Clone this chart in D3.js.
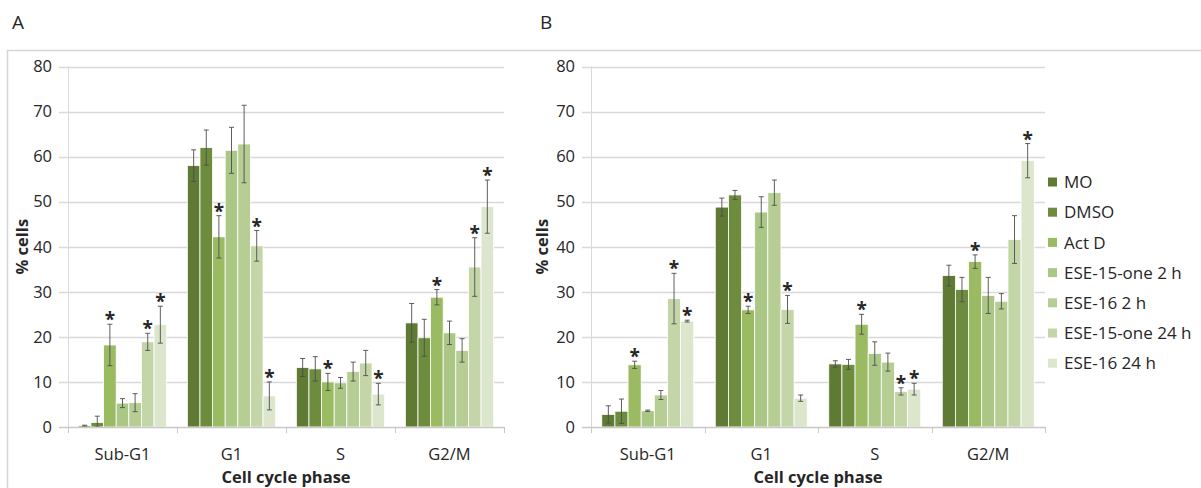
<!DOCTYPE html>
<html>
<head>
<meta charset="utf-8">
<script src="https://cdn.jsdelivr.net/npm/d3@7/dist/d3.min.js"></script>
<style>
  html, body { margin: 0; padding: 0; background: #fff; }
  svg { display: block; }
  text { font-family: "Open Sans", "DejaVu Sans", sans-serif; fill: #262626; }
</style>
</head>
<body>
<svg id="chart" width="1201" height="488"></svg>
<script>
// Cell cycle distribution (% cells) per phase, two experiments (A and B)
const categories = ["Sub-G1", "G1", "S", "G2/M"];
const seriesNames = ["MO", "DMSO", "Act D", "ESE-15-one 2 h", "ESE-16 2 h", "ESE-15-one 24 h", "ESE-16 24 h"];
const seriesColors = ["#5f7a32", "#6e8c3e", "#9bbb62", "#aac785", "#b6cd94", "#c4d6a8", "#dce6cd"];
const yTicks = [0, 10, 20, 30, 40, 50, 60, 70, 80];

// Panel A: mean values, rows = series, columns = phases
const valuesA = [
  [0.3, 58.0, 13.2, 23.1],
  [1.0, 62.0, 12.9, 19.8],
  [18.2, 42.2, 10.0, 28.8],
  [5.3, 61.4, 9.8, 20.9],
  [5.4, 62.8, 12.3, 17.0],
  [18.9, 40.2, 14.2, 35.5],
  [22.7, 6.9, 7.3, 48.9]
];
const errorsA = [
  [0.1, 3.5, 2.0, 4.3],
  [1.4, 3.9, 2.7, 4.1],
  [4.6, 4.7, 1.9, 1.7],
  [1.0, 5.1, 1.2, 2.6],
  [2.0, 8.6, 2.1, 2.6],
  [1.9, 3.4, 2.8, 6.5],
  [4.1, 3.1, 2.4, 5.9]
];
const signifA = [
  [0, 0, 0, 0],
  [0, 0, 0, 0],
  [1, 1, 1, 1],
  [0, 0, 0, 0],
  [0, 0, 0, 0],
  [1, 1, 0, 1],
  [1, 1, 1, 1]
];

// Panel B
const valuesB = [
  [2.8, 48.8, 14.0, 33.6],
  [3.5, 51.5, 13.9, 30.5],
  [13.8, 26.0, 22.8, 36.7],
  [3.6, 47.7, 16.3, 29.2],
  [7.1, 52.0, 14.4, 27.9],
  [28.5, 26.1, 7.9, 41.6],
  [23.5, 6.4, 8.4, 59.1]
];
const errorsB = [
  [1.9, 2.0, 0.7, 2.3],
  [2.7, 1.0, 1.1, 2.7],
  [0.8, 0.8, 2.2, 1.5],
  [0.15, 3.4, 2.6, 4.0],
  [1.0, 2.8, 2.0, 1.7],
  [5.6, 3.1, 0.8, 5.3],
  [0.2, 0.7, 1.3, 3.8]
];
const signifB = [
  [0, 0, 0, 0],
  [0, 0, 0, 0],
  [1, 1, 1, 1],
  [0, 0, 0, 0],
  [0, 0, 0, 0],
  [1, 1, 1, 0],
  [1, 0, 1, 1]
];

const svg = d3.select("#chart");

// outer frame
svg.append("path")
  .attr("d", "M7.5,488 V50.5 H1201")
  .attr("fill", "none")
  .attr("stroke", "#d6d6d6")
  .attr("stroke-width", 1.5);

function drawPanel(opts) {
  const { letter, letterX, left, right, ylabelX, values, errors, signif } = opts;
  const top = 66.5, bottom = 427;
  const g = svg.append("g");

  const y = d3.scaleLinear().domain([0, 80]).range([bottom, top]);
  const x0 = d3.scaleBand().domain(categories).range([left, right]).paddingInner(0).paddingOuter(0);
  const groupW = x0.bandwidth() * 0.81;
  const x1 = d3.scaleBand().domain(d3.range(seriesNames.length)).range([0, groupW]).padding(0);

  // panel letter
  g.append("text").attr("x", letterX).attr("y", 29)
    .attr("font-size", 19).text(letter);

  // gridlines (extend a little left of the value axis)
  g.append("g").selectAll("line").data(yTicks.filter(t => t > 0)).join("line")
    .attr("x1", left - 9).attr("x2", right)
    .attr("y1", d => Math.round(y(d)) + 0.5).attr("y2", d => Math.round(y(d)) + 0.5)
    .attr("stroke", "#d9d9d9").attr("stroke-width", 1.3);

  // y tick labels
  g.append("g").selectAll("text").data(yTicks).join("text")
    .attr("x", left - 16).attr("y", d => y(d))
    .attr("dy", "0.35em").attr("text-anchor", "end")
    .attr("font-size", 16.5).text(d => d);

  // value axis line
  g.append("line")
    .attr("x1", left + 0.5).attr("x2", left + 0.5)
    .attr("y1", top).attr("y2", bottom)
    .attr("stroke", "#d9d9d9").attr("stroke-width", 1);

  // bars
  categories.forEach((cat, ci) => {
    const gx = x0(cat) + (x0.bandwidth() - groupW) / 2;
    seriesNames.forEach((s, si) => {
      const v = values[si][ci];
      const e = errors[si][ci];
      const bx = gx + x1(si);
      const cx = bx + x1.bandwidth() / 2;
      g.append("rect")
        .attr("x", bx).attr("y", y(v))
        .attr("width", x1.bandwidth()).attr("height", y(0) - y(v))
        .attr("fill", seriesColors[si])
        .attr("stroke", "#ffffff").attr("stroke-width", 0.8);
      // error bar
      const eb = g.append("g").attr("stroke", "#4d4d4d").attr("stroke-width", 0.9);
      eb.append("line").attr("x1", cx).attr("x2", cx).attr("y1", y(v + e)).attr("y2", y(Math.max(0, v - e)));
      eb.append("line").attr("x1", cx - 2.5).attr("x2", cx + 2.5).attr("y1", y(v + e)).attr("y2", y(v + e));
      eb.append("line").attr("x1", cx - 2.5).attr("x2", cx + 2.5).attr("y1", y(Math.max(0, v - e))).attr("y2", y(Math.max(0, v - e)));
      if (signif[si][ci]) {
        g.append("text")
          .attr("x", cx).attr("y", y(v + e) + 2)
          .attr("text-anchor", "middle")
          .attr("font-size", 19).attr("font-weight", "bold").attr("fill", "#111")
          .text("*");
      }
    });
  });

  // category axis
  g.append("line")
    .attr("x1", left - 9).attr("x2", right)
    .attr("y1", bottom + 0.5).attr("y2", bottom + 0.5)
    .attr("stroke", "#c8c8c8").attr("stroke-width", 1.3);
  const bounds = categories.map(c => x0(c)).concat([right]);
  g.append("g").selectAll("line").data(bounds).join("line")
    .attr("x1", d => Math.round(d) + 0.5).attr("x2", d => Math.round(d) + 0.5)
    .attr("y1", bottom).attr("y2", bottom + 6)
    .attr("stroke", "#c8c8c8").attr("stroke-width", 1);

  g.append("g").selectAll("text").data(categories).join("text")
    .attr("x", d => x0(d) + x0.bandwidth() / 2).attr("y", 460)
    .attr("text-anchor", "middle").attr("font-size", 16.5).text(d => d);

  // axis titles
  g.append("text")
    .attr("transform", `translate(${ylabelX},${(top + bottom) / 2}) rotate(-90)`)
    .attr("text-anchor", "middle").attr("dy", "0.35em")
    .attr("font-size", 16.5).attr("font-weight", "bold").text("% cells");
  g.append("text")
    .attr("x", (left + right) / 2).attr("y", 483)
    .attr("text-anchor", "middle")
    .attr("font-size", 16.5).attr("font-weight", "bold").text("Cell cycle phase");
}

drawPanel({ letter: "A", letterX: 12, left: 68, right: 504, ylabelX: 22,
  values: valuesA, errors: errorsA, signif: signifA });
drawPanel({ letter: "B", letterX: 540, left: 591, right: 1045, ylabelX: 542,
  values: valuesB, errors: errorsB, signif: signifB });

// legend
const legend = svg.append("g");
seriesNames.forEach((s, i) => {
  const cy = 182 + i * 30.2;
  legend.append("rect").attr("x", 1048).attr("y", cy - 4.5).attr("width", 9).attr("height", 9)
    .attr("fill", seriesColors[i]);
  legend.append("text").attr("x", 1064).attr("y", cy).attr("dy", "0.36em")
    .attr("font-size", 17).text(s);
});
</script>
</body>
</html>
